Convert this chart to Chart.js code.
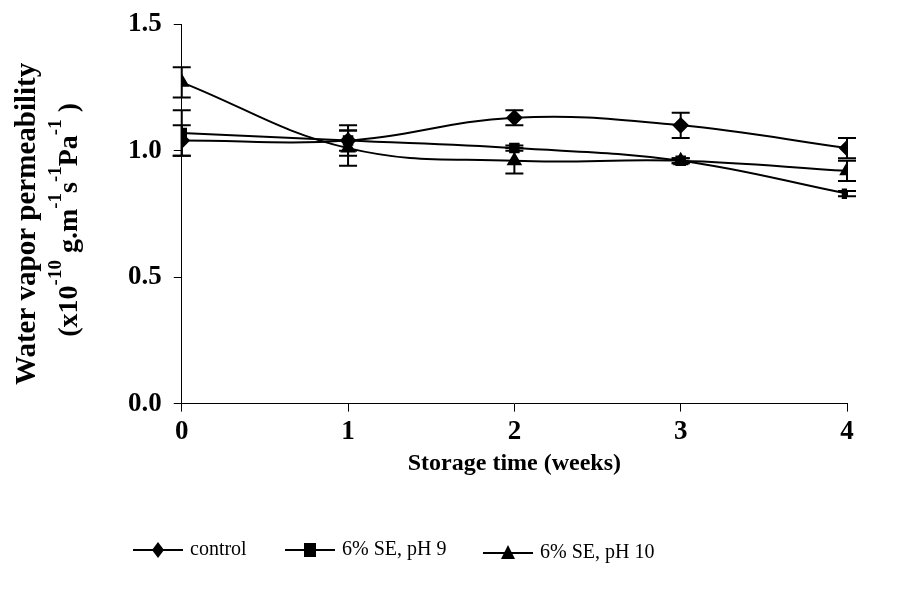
<!DOCTYPE html>
<html>
<head>
<meta charset="utf-8">
<script src="https://cdn.jsdelivr.net/npm/chart.js@4.4.1/dist/chart.umd.min.js"></script>
<style>
  html, body { margin: 0; padding: 0; background: #fff; }
  #wrap { width: 903px; height: 595px; }
</style>
</head>
<body>
<div id="wrap"><canvas id="wvpChart" width="903" height="595"></canvas></div>
<script>
// Data
const weeks = [0, 1, 2, 3, 4];
const xTicks = [0, 1, 2, 3, 4];
const yTicks = [0.0, 0.5, 1.0, 1.5];

const control = [1.04, 1.04, 1.13, 1.10, 1.01];
const controlErr = [0.06, 0.06, 0.03, 0.05, 0.04];

const se9 = [1.07, 1.04, 1.01, 0.96, 0.83];
const se9Err = [0.09, 0.04, 0.01, 0.01, 0.01];

const se10 = [1.27, 1.01, 0.96, 0.96, 0.92];
const se10Err = [0.06, 0.07, 0.05, 0.01, 0.04];

const seriesNames = ['control', '6% SE, pH 9', '6% SE, pH 10'];
const errors = [controlErr, se9Err, se10Err];

const serif = "'Liberation Serif', 'Times New Roman', serif";

function toPoints(vals) {
    return vals.map((v, i) => ({ x: weeks[i], y: v }));
}

// Error bars drawn from the scales
const errorBars = {
    id: 'errorBars',
    afterDatasetsDraw(chart) {
        const ctx = chart.ctx;
        const yScale = chart.scales.y;
        ctx.save();
        ctx.strokeStyle = '#000';
        ctx.lineWidth = 2;
        chart.data.datasets.forEach((ds, i) => {
            const meta = chart.getDatasetMeta(i);
            meta.data.forEach((pt, j) => {
                const v = ds.data[j].y;
                const e = errors[i][j];
                const yt = yScale.getPixelForValue(v + e);
                const yb = yScale.getPixelForValue(v - e);
                ctx.beginPath();
                ctx.moveTo(pt.x, yt); ctx.lineTo(pt.x, yb);
                ctx.moveTo(pt.x - 9, yt); ctx.lineTo(pt.x + 9, yt);
                ctx.moveTo(pt.x - 9, yb); ctx.lineTo(pt.x + 9, yb);
                ctx.stroke();
            });
        });
        ctx.restore();
    }
};

// Y title with superscripts + bottom legend
function drawRich(ctx, parts, size, supSize) {
    let total = 0;
    parts.forEach(p => {
        ctx.font = 'bold ' + (p.sup ? supSize : size) + 'px ' + serif;
        total += ctx.measureText(p.t).width;
    });
    let x = -total / 2;
    parts.forEach(p => {
        ctx.font = 'bold ' + (p.sup ? supSize : size) + 'px ' + serif;
        ctx.fillText(p.t, x, p.sup ? -size * 0.5 : 0);
        x += ctx.measureText(p.t).width;
    });
}

const decorations = {
    id: 'decorations',
    afterDraw(chart) {
        const ctx = chart.ctx;
        const area = chart.chartArea;
        const cy = (area.top + area.bottom) / 2;
        ctx.save();
        ctx.fillStyle = '#000';
        ctx.textBaseline = 'middle';
        ctx.textAlign = 'left';

        ctx.save();
        ctx.translate(28, cy + 10);
        ctx.rotate(-Math.PI / 2);
        drawRich(ctx, [{ t: 'Water vapor permeability' }], 29, 18);
        ctx.restore();

        ctx.save();
        ctx.translate(70, cy + 6);
        ctx.rotate(-Math.PI / 2);
        drawRich(ctx, [
            { t: '(x10' }, { t: '-10', sup: true }, { t: ' g.m' }, { t: '-1', sup: true },
            { t: 's' }, { t: '-1', sup: true }, { t: 'Pa' }, { t: '-1', sup: true }, { t: ' )' }
        ], 28, 19);
        ctx.restore();

        // x title
        ctx.save();
        ctx.textAlign = 'center';
        ctx.font = 'bold 24px ' + serif;
        ctx.fillText('Storage time (weeks)', (area.left + area.right) / 2, area.bottom + 60);
        ctx.restore();

        // legend
        const items = [
            { x: 133, y: 550, style: 'diamond' },
            { x: 285, y: 550, style: 'square' },
            { x: 483, y: 553, style: 'triangle' }
        ];
        ctx.strokeStyle = '#000';
        ctx.lineWidth = 2;
        items.forEach((it, i) => {
            ctx.beginPath();
            ctx.moveTo(it.x, it.y); ctx.lineTo(it.x + 50, it.y);
            ctx.stroke();
            const mx = it.x + 25;
            ctx.beginPath();
            if (it.style === 'diamond') {
                ctx.moveTo(mx, it.y - 8); ctx.lineTo(mx + 6, it.y);
                ctx.lineTo(mx, it.y + 8); ctx.lineTo(mx - 6, it.y);
            } else if (it.style === 'square') {
                ctx.rect(mx - 6, it.y - 7, 12, 14);
            } else {
                ctx.moveTo(mx, it.y - 8); ctx.lineTo(mx + 7, it.y + 6); ctx.lineTo(mx - 7, it.y + 6);
            }
            ctx.closePath();
            ctx.fill();
            ctx.font = '20px ' + serif;
            ctx.fillText(seriesNames[i], it.x + 57, it.y);
        });
        ctx.restore();
    }
};

const common = {
    borderColor: '#000',
    backgroundColor: '#000',
    pointBackgroundColor: '#000',
    pointBorderColor: '#000',
    borderWidth: 2,
    tension: 0.4,
    fill: false
};

new Chart(document.getElementById('wvpChart'), {
    type: 'line',
    data: {
        datasets: [
            Object.assign({ label: seriesNames[0], data: toPoints(control), pointStyle: 'rectRot', pointRadius: 7 }, common),
            Object.assign({ label: seriesNames[1], data: toPoints(se9), pointStyle: 'rect', pointRadius: 6 }, common),
            Object.assign({ label: seriesNames[2], data: toPoints(se10), pointStyle: 'triangle', pointRadius: 7 }, common)
        ]
    },
    options: {
        responsive: false,
        animation: false,
        layout: { padding: { left: 116, right: 56, top: 6, bottom: 143 } },
        plugins: {
            legend: { display: false },
            tooltip: { enabled: false }
        },
        scales: {
            x: {
                type: 'linear',
                min: 0,
                max: 4,
                afterBuildTicks(axis) { axis.ticks = xTicks.map(v => ({ value: v })); },
                grid: { display: true, drawOnChartArea: false, drawTicks: true, tickLength: 8, color: '#000', lineWidth: 1 },
                border: { display: true, color: '#000', width: 1 },
                ticks: { color: '#000', padding: 4, font: { family: serif, size: 27, weight: 'bold' }, callback: v => String(v) }
            },
            y: {
                min: 0,
                max: 1.5,
                afterBuildTicks(axis) { axis.ticks = yTicks.map(v => ({ value: v })); },
                grid: { display: true, drawOnChartArea: false, drawTicks: true, tickLength: 8, color: '#000', lineWidth: 1 },
                border: { display: true, color: '#000', width: 1 },
                ticks: { color: '#000', padding: 12, font: { family: serif, size: 27, weight: 'bold', lineHeight: 0.9 }, callback: v => v.toFixed(1) }
            }
        }
    },
    plugins: [errorBars, decorations]
});
</script>
</body>
</html>
